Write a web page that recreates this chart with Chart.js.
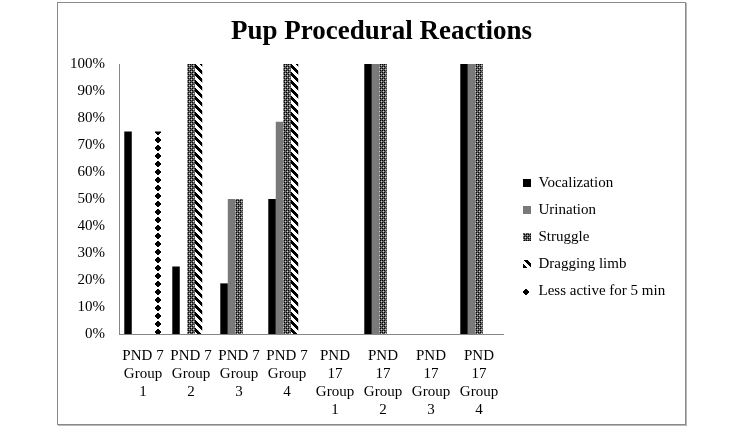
<!DOCTYPE html>
<html>
<head>
<meta charset="UTF-8">
<title>Pup Procedural Reactions</title>
<script src="https://cdn.jsdelivr.net/npm/chart.js@4.4.0/dist/chart.umd.min.js"></script>
<style>
  body { margin: 0; background: #fff; }
  #frame { position: absolute; left: 57px; top: 2px; width: 627px; height: 421px;
           border: 1px solid #8a8a8a; box-shadow: 1px 1px 0 #b8b8b8; }
  #chart { position: absolute; left: 0; top: 0; }
</style>
</head>
<body>
<div id="frame"></div>
<canvas id="chart" width="742" height="428"></canvas>
<script>
// categories (multi-line tick labels)
const categories = [
    ['PND 7', 'Group', '1'],
    ['PND 7', 'Group', '2'],
    ['PND 7', 'Group', '3'],
    ['PND 7', 'Group', '4'],
    ['PND', '17', 'Group', '1'],
    ['PND', '17', 'Group', '2'],
    ['PND', '17', 'Group', '3'],
    ['PND', '17', 'Group', '4']
];
const seriesNames = ['Vocalization', 'Urination', 'Struggle', 'Dragging limb', 'Less active for 5 min'];

// percent of pups
const vocalization = [75, 25, 18.75, 50, 0, 100, 0, 100];
const urination    = [0, 0, 50, 78.6, 0, 100, 0, 100];
const struggle     = [0, 100, 50, 100, 0, 100, 0, 100];
const draggingLimb = [0, 100, 0, 100, 0, 0, 0, 0];
const lessActive   = [75, 0, 0, 0, 0, 0, 0, 0];

const yMax = 100;
const yStep = 10;

Chart.defaults.font.family = "'Liberation Serif', 'Times New Roman', serif";
Chart.defaults.font.size = 15;
Chart.defaults.color = '#000';

const ctx = document.getElementById('chart').getContext('2d');

function makePattern(size, paint) {
    const c = document.createElement('canvas');
    c.width = size;
    c.height = size;
    const g = c.getContext('2d');
    paint(g, size);
    return ctx.createPattern(c, 'repeat');
}

// small dotted checker for "Struggle"
const checkerFill = makePattern(4, (g) => {
    g.fillStyle = '#5e5e5e';
    g.fillRect(0, 0, 4, 4);
    g.fillStyle = '#000';
    g.fillRect(0, 0, 1, 1);
    g.fillRect(2, 2, 1, 1);
    g.fillRect(2, 0, 1, 1);
    g.fillRect(0, 2, 1, 1);
    g.fillStyle = '#cfcfcf';
    g.fillRect(1, 1, 1, 1);
    g.fillRect(3, 3, 1, 1);
});

// "\" stripes for "Dragging limb"
const stripeFill = makePattern(8, (g, n) => {
    g.fillStyle = '#fff';
    g.fillRect(0, 0, n, n);
    g.fillStyle = '#000';
    for (let y = 0; y < n; y++) {
        for (let x = 0; x < n; x++) {
            if ((x - y + 2 * n) % n < 4) g.fillRect(x, y, 1, 1);
        }
    }
});

// stacked diamonds for "Less active" (column centred at x = 6 in the tile, matches the bar)
const diamondFill = makePattern(8, (g, n) => {
    g.fillStyle = '#fff';
    g.fillRect(0, 0, n, n);
    g.fillStyle = '#000';
    for (let y = 0; y < n; y++) {
        for (let x = 0; x < n; x++) {
            const dx = ((x + 0.5 - 6 + 3 * n / 2) % n) - n / 2;
            if (Math.abs(dx) + Math.abs(y + 0.5 - 4) <= 3.6) g.fillRect(x, y, 1, 1);
        }
    }
});

const seriesData = [vocalization, urination, struggle, draggingLimb, lessActive];
const seriesFills = ['#000000', '#7a7a7a', checkerFill, stripeFill, diamondFill];

const plotRight = 503;

const chart = new Chart(ctx, {
    type: 'bar',
    data: {
        labels: categories,
        datasets: seriesNames.map((name, i) => ({
            label: name,
            data: seriesData[i],
            backgroundColor: seriesFills[i],
            borderWidth: 0,
            yAxisID: 'y'
        }))
    },
    options: {
        responsive: false,
        animation: false,
        devicePixelRatio: 1,
        layout: { padding: { left: 60, right: 39, top: 0, bottom: 0 } },
        datasets: { bar: { categoryPercentage: 0.78, barPercentage: 1 } },
        scales: {
            x: {
                grid: { display: false, drawTicks: false },
                border: { color: '#868686' },
                ticks: { padding: 13, maxRotation: 0, autoSkip: false },
                afterFit: s => { s.height = 94; }
            },
            y: {
                min: 0,
                max: yMax,
                grid: { display: false, drawTicks: false },
                border: { color: '#868686' },
                ticks: { stepSize: yStep, padding: 14, callback: v => v + '%' },
                afterFit: s => { s.width = 59; }
            },
            // empty axis that keeps the gap between plot and legend
            gap: {
                type: 'linear',
                position: 'right',
                grid: { display: false, drawTicks: false },
                border: { display: false },
                ticks: { display: false },
                afterFit: s => { s.width = Math.max(0, s.chart.width - 39 - s.chart.legend.width - plotRight); }
            }
        },
        plugins: {
            title: {
                display: true,
                text: 'Pup Procedural Reactions',
                font: { size: 27, weight: 'bold' },
                padding: { top: 16, bottom: 15.6 }
            },
            legend: {
                position: 'right',
                maxWidth: 220,
                labels: { boxWidth: 8, boxHeight: 8, padding: 12 }
            },
            tooltip: { enabled: false }
        }
    },
    plugins: [{
        id: 'legendShift',
        afterLayout(c) {
            const lg = c.legend;
            const dx = c.chartArea.right + 8 - lg.left;
            lg.left += dx;
            lg.right += dx;
            lg.top += 23;
            lg.bottom += 23;
        }
    }]
});
</script>
</body>
</html>
